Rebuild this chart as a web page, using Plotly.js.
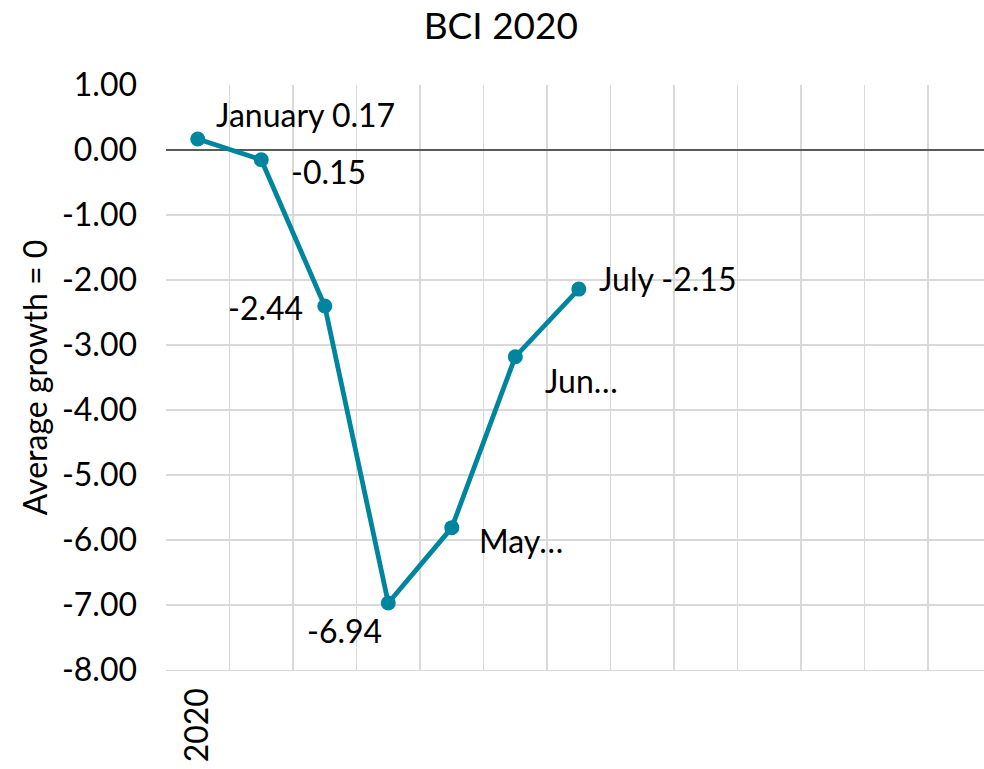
<!DOCTYPE html>
<html>
<head>
<meta charset="utf-8">
<script src="https://cdn.plot.ly/plotly-3.0.1.min.js"></script>
<style>html,body{margin:0;padding:0;background:#fff;}#chart{width:984px;height:769px;}</style>
</head>
<body>
<div id="chart"></div>
<script>
const months = ['January','February','March','April','May','June','July'];
const values = [0.17, -0.15, -2.40, -6.97, -5.81, -3.18, -2.14];
const pointLabels = ['January 0.17','-0.15','-2.44','-6.94','May…','Jun…','July -2.15'];
const extraCategories = ['August','September','October','November','December','Next'];
const categories = months.concat(extraCategories);
const xTickText = ['2020','','','','','','','','','','','',''];
const yTickVals = [1,0,-1,-2,-3,-4,-5,-6,-7,-8];
const yTickText = ['1.00','0.00','-1.00','-2.00','-3.00','-4.00','-5.00','-6.00','-7.00','-8.00'];

const labelOffsets = [
  {xanchor:'left', yanchor:'middle', xshift:16, yshift:24},
  {xanchor:'left', yanchor:'middle', xshift:28, yshift:-12},
  {xanchor:'right', yanchor:'middle', xshift:-20, yshift:-1},
  {xanchor:'right', yanchor:'middle', xshift:-4, yshift:-27},
  {xanchor:'left', yanchor:'middle', xshift:25, yshift:-13},
  {xanchor:'left', yanchor:'middle', xshift:28, yshift:-24},
  {xanchor:'left', yanchor:'middle', xshift:18, yshift:11}
];

const annotations = months.map((m, i) => Object.assign({
  x: m, y: values[i], text: pointLabels[i], showarrow: false,
  font: {family: 'Lato, sans-serif', size: 32, color: '#000'}
}, labelOffsets[i]));

const trace = {
  x: months, y: values, type: 'scatter', mode: 'lines+markers',
  line: {color: '#00859f', width: 4.8},
  marker: {color: '#00859f', size: 15},
  hoverinfo: 'skip'
};

const layout = {
  width: 984, height: 769,
  margin: {l: 166, r: 0, t: 85, b: 99, pad: 0},
  paper_bgcolor: '#fff', plot_bgcolor: '#fff',
  font: {family: 'Lato, sans-serif', size: 32, color: '#000'},
  title: {text: 'BCI 2020', x: 0.509, xanchor: 'center', y: 0.966, yanchor: 'middle', font: {size: 37, color: '#000'}},
  showlegend: false,
  xaxis: {
    type: 'category', categoryorder: 'array', categoryarray: categories,
    tickmode: 'array', tickvals: categories, ticktext: xTickText,
    tickson: 'boundaries', tickangle: -90, ticks: '', ticklabelstandoff: 4,
    range: [-0.5, 12.38], showgrid: true, gridcolor: '#d9d9d9', gridwidth: 1.3,
    zeroline: false, showline: true, linecolor: '#d9d9d9', linewidth: 1.3,
    tickfont: {size: 32}, automargin: false
  },
  yaxis: {
    range: [-8, 1], tickmode: 'array', tickvals: yTickVals, ticktext: yTickText,
    showgrid: true, gridcolor: '#d9d9d9', gridwidth: 1.3,
    zeroline: true, zerolinecolor: '#595959', zerolinewidth: 1.3,
    showline: false, ticks: '', ticklabelstandoff: 28,
    tickfont: {size: 32}, automargin: false,
    title: {text: 'Average growth = 0', standoff: 4, font: {size: 32}}
  },
  annotations: annotations
};

Plotly.newPlot('chart', [trace], layout, {staticPlot: true, displayModeBar: false});
</script>
</body>
</html>
